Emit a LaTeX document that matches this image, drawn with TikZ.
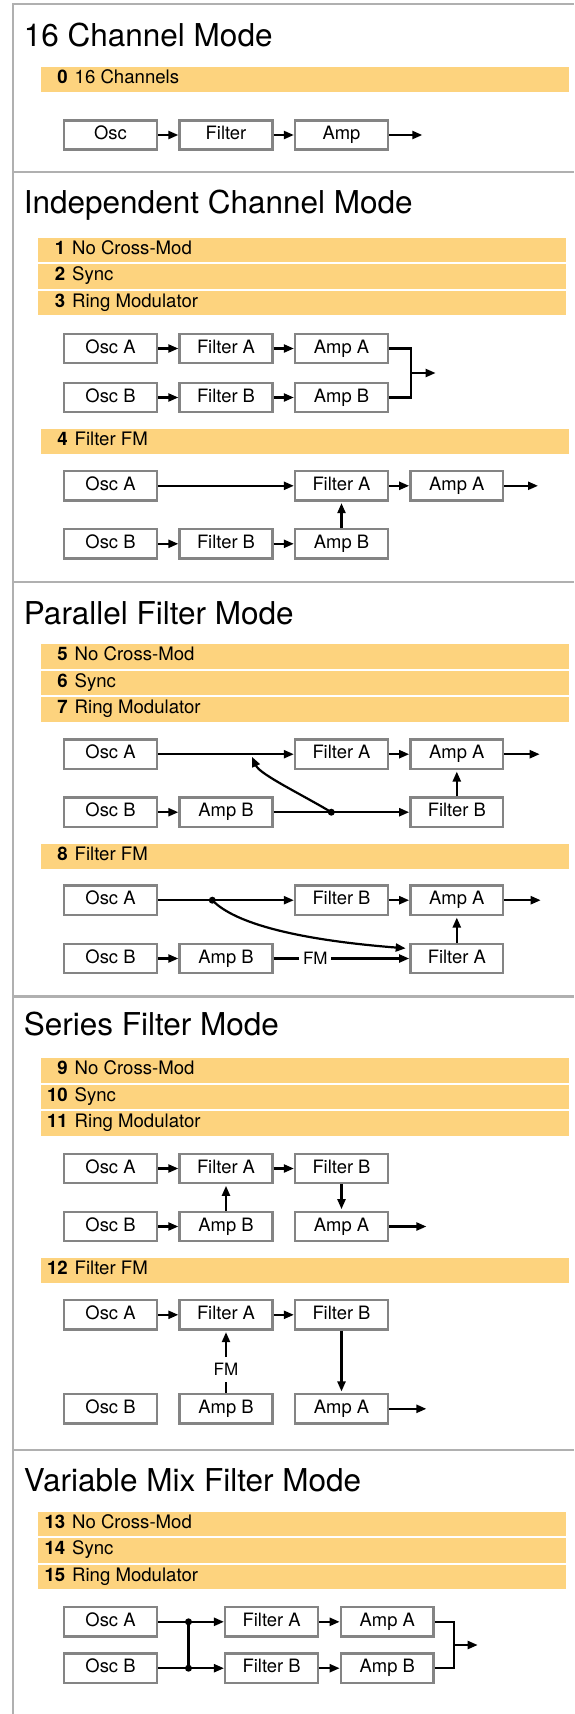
\documentclass[tikz,border=0pt]{standalone}
\usepackage{fontspec}
\setmainfont{TeX Gyre Heros}
\usetikzlibrary{arrows.meta}
\definecolor{bandcol}{RGB}{253,211,126}
\definecolor{framegray}{RGB}{176,176,176}
\definecolor{boxgray}{RGB}{132,132,132}
\newcommand{\mband}[5]{%
  \fill[bandcol] (#2,#3) rectangle ++(527.5,24.5);
  \node[bandnum] (#1n) at ({#2+27},{#3+16.5}) {#4};
  \node[bandtxt] (#1t) at ({#2+33.5},{#3+16.5}) {#5};
}
\begin{document}
\begin{tikzpicture}[x=1pt, y=-1pt,
  blk/.style={draw=boxgray, line width=2.5pt, fill=white, minimum width=92.8pt, minimum height=29.2pt, inner sep=0pt, font=\fontsize{18.4}{20}\selectfont, text height=13pt, text depth=4pt},
  modetitle/.style={anchor=base west, inner sep=0pt, font=\fontsize{31.5}{36}\selectfont},
  bandnum/.style={anchor=base east, inner sep=0pt, font=\fontsize{18.6}{20}\selectfont\bfseries},
  bandtxt/.style={anchor=base west, inner sep=0pt, font=\fontsize{18.6}{20}\selectfont},
  conn/.style={line width=2.2pt},
  arr/.style={line width=2.2pt, -{Triangle[length=10pt,width=8pt]}},
  dotn/.style={circle, fill=black, inner sep=0pt, minimum size=7pt},
  fmlab/.style={inner xsep=3.5pt, inner ysep=6pt, font=\fontsize{17}{18}\selectfont},
  framel/.style={draw=framegray, line width=2.2pt}
]
\useasboundingbox (0,0) rectangle (574,1714);
% frame
\draw[framel] (12.7,1714) -- (12.7,4.3) -- (574,4.3);
\draw[framel] (12.7,172) -- (574,172);
\draw[framel] (12.7,581.7) -- (574,581.7);
\draw[framel] (12.7,996.5) -- (574,996.5);
\draw[framel] (12.7,1450) -- (574,1450);

% ===== Section 1
\node[modetitle] (T1) at (23.7,46) {16 Channel Mode};
\mband{b0}{41}{67.3}{0}{16 Channels}
\node[blk] (s1o) at (110.5,135) {Osc};
\node[blk] (s1f) at (226,135) {Filter};
\node[blk] (s1a) at (341.5,135) {Amp};
\coordinate (s1out) at (422.3,135);
\draw[arr] (s1o) -- (s1f);
\draw[arr] (s1f) -- (s1a);
\draw[arr] (s1a) -- (s1out);

% ===== Section 2
\node[modetitle] (T2) at (23.7,213.3) {Independent Channel Mode};
\mband{b1}{38.4}{237.7}{1}{No Cross-Mod}
\mband{b2}{38.4}{264.2}{2}{Sync}
\mband{b3}{38.4}{290.7}{3}{Ring Modulator}
\node[blk] (s2oa) at (110.5,348.5) {Osc A};
\node[blk] (s2fa) at (226,348.5) {Filter A};
\node[blk] (s2aa) at (341.5,348.5) {Amp A};
\node[blk] (s2ob) at (110.5,397.5) {Osc B};
\node[blk] (s2fb) at (226,397.5) {Filter B};
\node[blk] (s2ab) at (341.5,397.5) {Amp B};
\draw[arr] (s2oa) -- (s2fa);
\draw[arr] (s2fa) -- (s2aa);
\draw[arr] (s2ob) -- (s2fb);
\draw[arr] (s2fb) -- (s2ab);
\coordinate (s2j) at (411,373);
\coordinate (s2out) at (435.6,373);
\draw[conn] (s2aa.east) -| (s2j) |- (s2ab.east);
\draw[arr] (s2j) -- (s2out);

\mband{b4}{41}{429.3}{4}{Filter FM}
\node[blk] (s2coa) at (110.5,485.8) {Osc A};
\node[blk] (s2cfa) at (341.5,485.8) {Filter A};
\node[blk] (s2caa) at (456.8,485.8) {Amp A};
\node[blk] (s2cob) at (110.5,543.8) {Osc B};
\node[blk] (s2cfb) at (226,543.8) {Filter B};
\node[blk] (s2cab) at (341.5,543.8) {Amp B};
\coordinate (s2cout) at (538,485.8);
\draw[arr] (s2coa) -- (s2cfa);
\draw[arr] (s2cfa) -- (s2caa);
\draw[arr] (s2caa) -- (s2cout);
\draw[arr] (s2cob) -- (s2cfb);
\draw[arr] (s2cfb) -- (s2cab);
\draw[arr, shorten >=1.5pt] (s2cab) -- (s2cfa);

% ===== Section 3
\node[modetitle] (T3) at (23.7,624.3) {Parallel Filter Mode};
\mband{b5}{41}{644.3}{5}{No Cross-Mod}
\mband{b6}{41}{670.8}{6}{Sync}
\mband{b7}{41}{697.3}{7}{Ring Modulator}
\node[blk] (s3oa) at (110.5,754.2) {Osc A};
\node[blk] (s3fa) at (341.5,754.2) {Filter A};
\node[blk] (s3aa) at (456.8,754.2) {Amp A};
\node[blk] (s3ob) at (110.5,812.2) {Osc B};
\node[blk] (s3ab) at (226,812.2) {Amp B};
\node[blk] (s3fb) at (456.8,812.2) {Filter B};
\coordinate (s3out) at (539.7,754.2);
\coordinate (s3tip) at (252,756.8);
\draw[arr] (s3oa) -- (s3fa);
\draw[arr] (s3fa) -- (s3aa);
\draw[arr] (s3aa) -- (s3out);
\draw[arr] (s3ob) -- (s3ab);
\draw[arr] (s3ab) -- (s3fb);
\node[dotn] (s3d) at (331.3,812.2) {};
\draw[arr] (s3d.center) .. controls (301,794) and (260,774.5) .. (s3tip);
\draw[arr, shorten >=1.5pt] (s3fb) -- (s3aa);

\mband{b8}{41}{844.3}{8}{Filter FM}
\node[blk] (s3xoa) at (110.5,900.2) {Osc A};
\node[blk] (s3xfb) at (341.5,900.2) {Filter B};
\node[blk] (s3xaa) at (456.8,900.2) {Amp A};
\node[blk] (s3xob) at (110.5,958.5) {Osc B};
\node[blk] (s3xab) at (226,958.5) {Amp B};
\node[blk] (s3xfa) at (456.8,958.5) {Filter A};
\coordinate (s3xout) at (540.7,900.2);
\coordinate (s3xtip) at (405.7,948.3);
\draw[arr] (s3xoa) -- (s3xfb);
\draw[arr] (s3xfb) -- (s3xaa);
\draw[arr] (s3xaa) -- (s3xout);
\draw[arr] (s3xob) -- (s3xab);
\node[fmlab] (s3fm) at (315.3,958.5) {FM};
\draw[conn] (s3xab) -- (s3fm);
\draw[arr] (s3fm) -- (s3xfa);
\node[dotn] (s3xd) at (212.3,900.2) {};
\draw[arr] (s3xd.center) .. controls (235,924) and (300,940) .. (s3xtip);
\draw[arr, shorten >=1.5pt] (s3xfa) -- (s3xaa);

% ===== Section 4
\node[modetitle] (T4) at (23.7,1035) {Series Filter Mode};
\mband{b9}{41}{1058.3}{9}{No Cross-Mod}
\mband{b10}{41}{1084.8}{10}{Sync}
\mband{b11}{41}{1111.3}{11}{Ring Modulator}
\node[blk] (s4oa) at (110.5,1168.5) {Osc A};
\node[blk] (s4fa) at (226,1168.5) {Filter A};
\node[blk] (s4fb) at (341.5,1168.5) {Filter B};
\node[blk] (s4ob) at (110.5,1226.5) {Osc B};
\node[blk] (s4ab) at (226,1226.5) {Amp B};
\node[blk] (s4aa) at (341.5,1226.5) {Amp A};
\coordinate (s4out) at (426.4,1226.5);
\draw[arr] (s4oa) -- (s4fa);
\draw[arr] (s4fa) -- (s4fb);
\draw[arr] (s4ob) -- (s4ab);
\draw[arr, shorten >=1.5pt] (s4ab) -- (s4fa);
\draw[arr, shorten >=1.5pt] (s4fb) -- (s4aa);
\draw[arr] (s4aa) -- (s4out);

\mband{b12}{41}{1258.3}{12}{Filter FM}
\node[blk] (s4xoa) at (110.5,1314.8) {Osc A};
\node[blk] (s4xfa) at (226,1314.8) {Filter A};
\node[blk] (s4xfb) at (341.5,1314.8) {Filter B};
\node[blk] (s4xob) at (110.5,1408.8) {Osc B};
\node[blk] (s4xab) at (226,1408.8) {Amp B};
\node[blk] (s4xaa) at (341.5,1408.8) {Amp A};
\coordinate (s4xout) at (426.4,1408.8);
\draw[arr] (s4xoa) -- (s4xfa);
\draw[arr] (s4xfa) -- (s4xfb);
\node[fmlab] (s4fm) at (226,1369.5) {FM};
\draw[conn] (s4xab) -- (s4fm);
\draw[arr, shorten >=1.5pt] (s4fm) -- (s4xfa);
\draw[arr, shorten >=1.5pt] (s4xfb) -- (s4xaa);
\draw[arr] (s4xaa) -- (s4xout);

% ===== Section 5
\node[modetitle] (T5) at (23.7,1491.7) {Variable Mix Filter Mode};
\mband{b13}{38.4}{1511.7}{13}{No Cross-Mod}
\mband{b14}{38.4}{1538.2}{14}{Sync}
\mband{b15}{38.4}{1564.7}{15}{Ring Modulator}
\node[blk] (s5oa) at (110.5,1621.8) {Osc A};
\node[blk] (s5fa) at (271.6,1621.8) {Filter A};
\node[blk] (s5aa) at (387.3,1621.8) {Amp A};
\node[blk] (s5ob) at (110.5,1668.2) {Osc B};
\node[blk] (s5fb) at (271.6,1668.2) {Filter B};
\node[blk] (s5ab) at (387.3,1668.2) {Amp B};
\draw[arr] (s5oa) -- (s5fa);
\draw[arr] (s5ob) -- (s5fb);
\node[dotn] (s5da) at (188.5,1621.8) {};
\node[dotn] (s5db) at (188.5,1668.2) {};
\draw[conn] (s5da.center) -- (s5db.center);
\draw[arr] (s5fa) -- (s5aa);
\draw[arr] (s5fb) -- (s5ab);
\coordinate (s5j) at (453.9,1645);
\coordinate (s5out) at (477.7,1645);
\draw[conn] (s5aa.east) -| (s5j) |- (s5ab.east);
\draw[arr] (s5j) -- (s5out);
\end{tikzpicture}
\end{document}
